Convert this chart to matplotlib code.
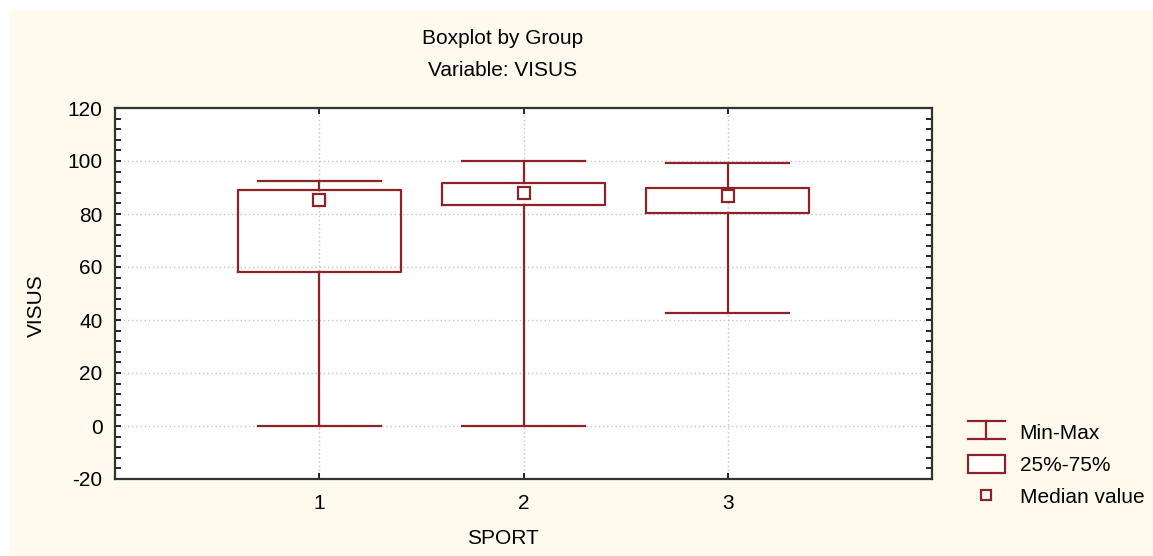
import numpy as np
import matplotlib
matplotlib.use("Agg")
import matplotlib.pyplot as plt
from matplotlib.patches import Rectangle
from matplotlib.lines import Line2D
from matplotlib.legend_handler import HandlerBase

plt.rcParams['font.family'] = ['Liberation Sans', 'DejaVu Sans']
plt.rcParams['axes.unicode_minus'] = False

# data
groups = [1, 2, 3]
mins = [0.0, 0.0, 42.8]
q25 = [58.2, 83.3, 80.3]
medians = [85.2, 88.0, 86.7]
q75 = [89.0, 91.6, 90.0]
maxs = [92.6, 99.9, 99.4]

col = '#8E2229'
cream = '#FFF9EE'
fs = 15


class MinMaxHandler(HandlerBase):
    # draws the I-shaped whisker symbol in the legend
    def create_artists(self, legend, orig_handle, xd, yd, width, height, fontsize, trans):
        h = height * 1.0
        y0 = height / 2 - h / 2
        y1 = height / 2 + h / 2
        lines = [Line2D([0, width], [y0, y0]),
                 Line2D([0, width], [y1, y1]),
                 Line2D([width / 2, width / 2], [y0, y1])]
        for ln in lines:
            ln.set_color(col)
            ln.set_linewidth(1.6)
            ln.set_transform(trans)
        return lines


fig = plt.figure(figsize=(11.53, 5.56), dpi=100, facecolor='white')
fig.patches.append(Rectangle((9 / 1153, 0), 1, 1 - 11 / 556, transform=fig.transFigure,
                             facecolor=cream, edgecolor='none', zorder=-10))

ax = fig.add_axes([115 / 1153, 1 - 479 / 556, 817 / 1153, 371 / 556])
ax.set_facecolor('white')

stats = []
for i in range(len(groups)):
    stats.append(dict(whislo=mins[i], q1=q25[i], med=medians[i], q3=q75[i], whishi=maxs[i], fliers=[]))

lp = dict(color=col, linewidth=1.6)
ax.bxp(stats, positions=groups, widths=0.8, capwidths=0.6, showfliers=False,
       boxprops=lp, whiskerprops=lp, capprops=lp,
       medianprops=dict(visible=False), manage_ticks=False, zorder=3)
ax.plot(groups, medians, linestyle='none', marker='s', markersize=8,
        markerfacecolor='white', markeredgecolor=col, markeredgewidth=1.6, zorder=4)

ax.set_xlim(0, 4)
ax.set_ylim(-20, 120)
ax.set_xticks(groups)
ax.set_yticks(np.arange(-20, 121, 20))
ax.set_yticks(np.arange(-20, 121, 4), minor=True)
ax.tick_params(axis='both', which='both', direction='in', top=True, right=True,
               labelsize=fs, color='black')
ax.tick_params(axis='both', which='major', length=4, width=1.2)
ax.tick_params(axis='y', which='minor', length=4, width=1.2)
ax.tick_params(axis='y', which='major', pad=9)
ax.tick_params(axis='x', which='major', pad=11)
ax.grid(True, which='major', color='#C4C4C4', linestyle=(0, (1, 2)), linewidth=1)
ax.set_axisbelow(True)
for sp in ax.spines.values():
    sp.set_linewidth(1.6)
    sp.set_color('#333333')

ax.set_xlabel('SPORT', fontsize=fs)
ax.xaxis.set_label_coords((503 - 115) / 817, -0.135)
ax.set_ylabel('VISUS', fontsize=fs)
ax.yaxis.set_label_coords(-0.085, (479 - 306) / 371)

fig.text(503 / 1153, 1 - 38 / 556, 'Boxplot by Group', ha='center', va='center', fontsize=fs)
fig.text(503 / 1153, 1 - 71 / 556, 'Variable: VISUS', ha='center', va='center', fontsize=fs)

h_minmax = Line2D([], [])
h_box = Rectangle((0, 0), 1, 1, facecolor='white', edgecolor=col, linewidth=1.6)
h_med = Line2D([], [], linestyle='none', marker='s', markersize=7,
               markerfacecolor='white', markeredgecolor=col, markeredgewidth=1.6)
fig.legend([h_minmax, h_box, h_med], ['Min-Max', '25%-75%', 'Median value'],
           handler_map={h_minmax: MinMaxHandler()},
           loc='upper left', bbox_to_anchor=(953 / 1153, 1 - 408 / 556),
           frameon=False, fontsize=fs, handlelength=1.8, handleheight=0.95,
           handletextpad=0.7, labelspacing=0.58, borderpad=0.2)

fig.savefig('out.png', dpi=100, facecolor='white')
